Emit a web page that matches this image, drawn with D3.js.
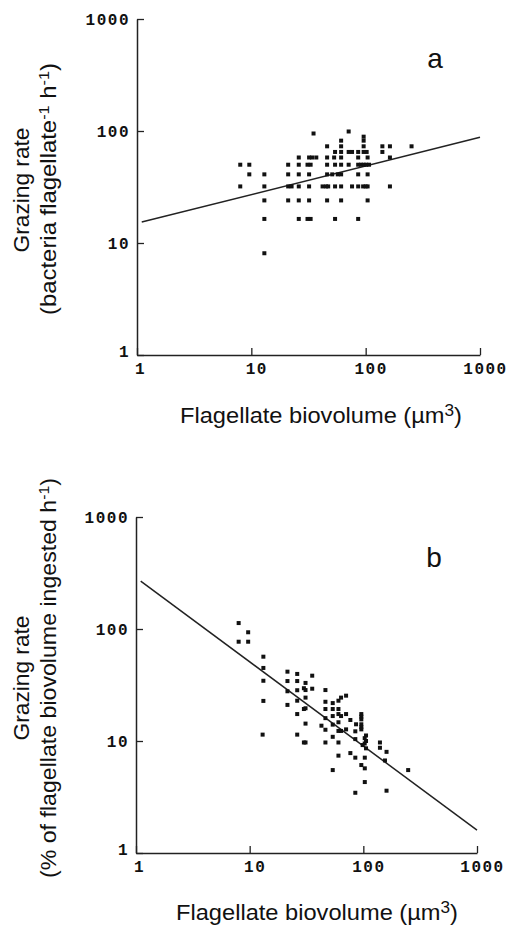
<!DOCTYPE html>
<html>
<head>
<meta charset="utf-8">
<script src="https://cdn.jsdelivr.net/npm/d3@7/dist/d3.min.js"></script>
<style>
  html, body { margin: 0; padding: 0; background: #fff; }
  svg { display: block; }
  .tick text { font-family: "Liberation Mono", "DejaVu Sans Mono", monospace; font-weight: bold; font-size: 16px; fill: #111; letter-spacing: 1.5px; }
  .lbl { font-family: "Liberation Sans", Arial, sans-serif; fill: #111; }
</style>
</head>
<body>
<svg id="chart" width="513" height="928"></svg>
<script>
// ---------- data ----------
const tickValues = [1, 10, 100, 1000];

// Panel a: flagellate biovolume (µm3) vs grazing rate (bacteria flagellate-1 h-1)
const volumeA = [
  35,
  71,
  96,
  61, 96,
  46, 61, 96, 140, 163, 252,
  54, 61, 71, 76, 86, 96, 102, 140,
  26, 32, 34, 37, 46, 53, 61, 86, 104, 163,
  8, 9.6, 21, 26, 31, 33, 46, 54, 61, 71, 86, 91, 96, 101, 107,
  9.6, 13, 21, 26, 32, 46, 51, 57, 61, 86, 104,
  8, 13, 21, 22.5, 26, 32, 42, 45, 47, 54, 61, 76, 86, 95, 100, 104, 163,
  13, 21, 26, 32, 46, 61, 104,
  13, 26, 31, 33, 54, 86,
  13
];
const rateA = [
  95,
  99,
  89,
  82, 82,
  73, 73, 73, 73, 73, 73,
  65, 65, 65, 65, 65, 65, 65, 65,
  58, 58, 58, 58, 58, 58, 58, 58, 58, 58,
  50, 50, 50, 50, 50, 50, 50, 50, 50, 50, 50, 50, 50, 50, 50,
  41, 41, 41, 41, 41, 41, 41, 41, 41, 41, 41,
  32, 32, 32, 32, 32, 32, 32, 32, 32, 32, 32, 32, 32, 32, 32, 32, 32,
  24, 24, 24, 24, 24, 24, 24,
  16.4, 16.4, 16.4, 16.4, 16.4, 16.4,
  8.1
];
// regression a: rate = 15 * V^0.256
const fitA = { a: 15, b: 0.256, from: 1.1, to: 1000 };

// Panel b: flagellate biovolume (µm3) vs grazing rate (% of biovolume ingested h-1)
const volumeB = [
  8, 9.7, 8, 9.7, 13.2, 13.2, 13.2, 13.2, 13,
  21.5, 26.2, 35.5, 21.5, 26.2, 31, 30, 31, 35.5, 21.5, 26.2, 46.4, 31, 26.2,
  70.5, 63.7, 60.4, 46.4, 53.8, 21.5, 30, 31, 46.4, 53.8, 60.4, 26.2, 60.4,
  63.7, 70.5, 96, 96, 96, 53.8, 46.4, 76.9, 86.3, 96, 96, 96, 31, 42.8, 53.8,
  60.4, 46.4, 60.4, 63.7, 70.5, 85, 105.6, 102.8, 105.6, 102.8, 26.2, 53.8, 85,
  30, 31, 46.4, 60.4, 98.6, 105.6, 140, 140, 160, 76.9, 85, 103, 60.4, 155,
  96, 103, 53.8, 248, 103, 85, 160
];
const rateB = [
  113, 93.5, 77, 77, 56.6, 44.9, 34.5, 22.8, 11.4,
  41.6, 39.7, 38.3, 34.3, 34.3, 33, 29.6, 28.5, 29.3, 27.8, 28.4, 28.5, 24.4, 22.9,
  25.4, 24.4, 22.9, 22.4, 21.8, 21, 19.3, 19.6, 19.3, 19.3, 19.3, 17.4, 17.4,
  16.7, 17.4, 17.4, 16.5, 15.6, 16.7, 16, 15.4, 14.1, 14.1, 13.3, 12.7, 14.3, 13.7, 14,
  14.7, 12.6, 12.3, 12.3, 12.7, 12.2, 11.2, 10.6, 10, 9.5, 11.4, 10.9, 10.4,
  9.7, 9.7, 9.7, 9.7, 9.2, 8.6, 9.7, 8.7, 8.0, 7.8, 7.1, 7.1, 7.4, 6.7,
  6.1, 5.7, 5.5, 5.5, 4.3, 3.45, 3.6
];
// regression b: rate = 288 * V^-0.752
const fitB = { a: 288, b: -0.752, from: 1.1, to: 1000 };

// ---------- drawing ----------
const svg = d3.select("#chart");

function drawPanel(p) {
  const x = d3.scaleLog().domain([1, 1000]).range(p.xRange);
  const y = d3.scaleLog().domain([1, 1000]).range(p.yRange);
  const g = svg.append("g");

  // axes (ticks point inward)
  const yAxis = d3.axisLeft(y).tickValues(tickValues).tickFormat(d3.format("d"))
    .tickSizeInner(-7).tickSizeOuter(0).tickPadding(7);
  const xAxis = d3.axisBottom(x).tickValues(tickValues).tickFormat(d3.format("d"))
    .tickSizeInner(-7).tickSizeOuter(0).tickPadding(8);

  const ya = g.append("g").attr("transform", `translate(${p.xRange[0]},0)`).call(yAxis);
  const xa = g.append("g").attr("transform", `translate(0,${p.yRange[0]})`).call(xAxis);
  [ya, xa].forEach(a => {
    a.selectAll("path.domain").attr("stroke", "#222").attr("stroke-width", 1.5);
    a.selectAll(".tick line").attr("stroke", "#222").attr("stroke-width", 1.3);
  });
  ya.selectAll(".tick text").attr("dy", "0.35em");
  ya.selectAll(".tick").filter(d => d === 1).select("text").attr("dy", "0.1em");
  xa.selectAll(".tick text").attr("dx", d => d === 1 ? 3 : 5);

  // regression line
  const lineData = [p.fit.from, p.fit.to].map(v => [v, p.fit.a * Math.pow(v, p.fit.b)]);
  g.append("path")
    .datum(lineData)
    .attr("fill", "none")
    .attr("stroke", "#222")
    .attr("stroke-width", 1.5)
    .attr("d", d3.line().x(d => x(d[0])).y(d => y(d[1])));

  // points
  const pts = p.vol.map((v, i) => [v, p.rate[i]]);
  g.selectAll("rect.pt").data(pts).enter().append("rect")
    .attr("class", "pt")
    .attr("x", d => x(d[0]) - 2)
    .attr("y", d => y(d[1]) - 2)
    .attr("width", 4).attr("height", 4)
    .attr("fill", "#111");

  // panel letter
  g.append("text").attr("class", "lbl")
    .attr("x", p.letterPos[0]).attr("y", p.letterPos[1])
    .attr("text-anchor", "middle").attr("font-size", 28)
    .text(p.letter);

  // x label
  const xl = g.append("text").attr("class", "lbl")
    .attr("x", p.xLabelPos[0]).attr("y", p.xLabelPos[1])
    .attr("text-anchor", "middle").attr("font-size", 22)
    .attr("textLength", 282).attr("lengthAdjust", "spacingAndGlyphs");
  xl.append("tspan").text("Flagellate biovolume (\u00B5m");
  xl.append("tspan").attr("dy", -7).attr("font-size", 16).text("3");
  xl.append("tspan").attr("dy", 7).text(")");

  // y label line 1
  g.append("text").attr("class", "lbl")
    .attr("transform", `translate(${p.yLab1[0]},${p.yLab1[1]}) rotate(-90)`)
    .attr("text-anchor", "middle").attr("font-size", 22)
    .attr("textLength", 125).attr("lengthAdjust", "spacingAndGlyphs")
    .text("Grazing rate");

  // y label line 2 (superscripts shift up, next part shifts back down)
  const yl = g.append("text").attr("class", "lbl")
    .attr("transform", `translate(${p.yLab2[0]},${p.yLab2[1]}) rotate(-90)`)
    .attr("text-anchor", "middle").attr("font-size", 22)
    .attr("textLength", p.yLab2Len).attr("lengthAdjust", "spacingAndGlyphs");
  let raised = false;
  p.yLab2Parts.forEach(part => {
    const ts = yl.append("tspan").text(part.t);
    if (part.sup) {
      ts.attr("dy", -7).attr("font-size", 15);
      raised = true;
    } else if (raised) {
      ts.attr("dy", 7);
      raised = false;
    }
  });
}

drawPanel({
  xRange: [137, 480], yRange: [355, 19],
  vol: volumeA, rate: rateA, fit: fitA,
  letter: "a", letterPos: [435, 68],
  xLabelPos: [321, 423],
  yLab1: [29, 190], yLab2: [56, 189], yLab2Len: 252,
  yLab2Parts: [{t: "(bacteria flagellate"}, {t: "-1", sup: true}, {t: " h"}, {t: "-1", sup: true}, {t: ")"}]
});

drawPanel({
  xRange: [136, 477], yRange: [853, 517],
  vol: volumeB, rate: rateB, fit: fitB,
  letter: "b", letterPos: [434, 567],
  xLabelPos: [317, 920],
  yLab1: [29, 678], yLab2: [56, 678], yLab2Len: 400,
  yLab2Parts: [{t: "(% of flagellate biovolume ingested h"}, {t: "-1", sup: true}, {t: ")"}]
});
</script>
</body>
</html>
